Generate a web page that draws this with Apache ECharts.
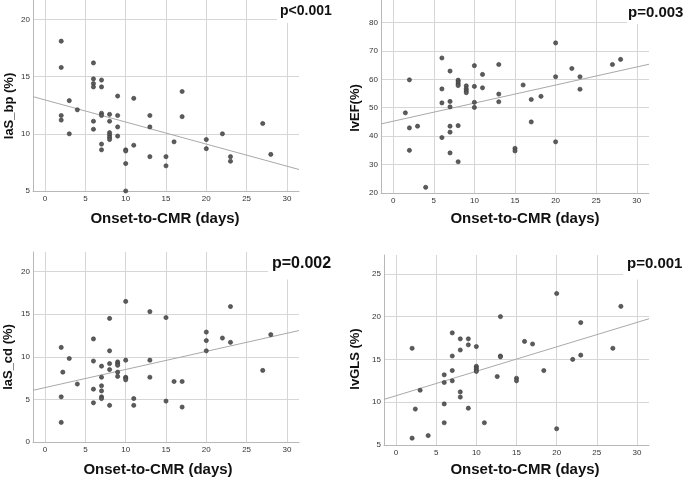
<!DOCTYPE html>
<html>
<head>
<meta charset="utf-8">
<script src="https://cdn.jsdelivr.net/npm/echarts@6/dist/echarts.min.js"></script>
<style>
html,body{margin:0;padding:0;background:#fff;}
#chart{width:685px;height:479px;}
</style>
</head>
<body>
<div id="chart"></div>
<script>
// ---------- data ----------
const xAxisName = 'Onset-to-CMR (days)';
const xTicks = [0, 5, 10, 15, 20, 25, 30];

// Panel 1: laS_bp
const bpOnset = [2,2,2,2,3,3,4,6,6,6,6,6,6,7,7,7,7,7,7,8,8,8,8,8,8,9,9,9,9,10,10,10,10,11,11,13,13,13,15,15,16,17,17,20,20,22,23,23,27,28];
const bpValue = [18.1,15.8,11.6,11.2,12.9,10.0,12.1,16.2,14.8,14.4,14.1,11.1,10.4,14.7,14.1,11.8,11.6,9.1,8.6,11.7,11.1,10.1,9.9,9.7,9.5,13.3,11.6,10.6,9.8,8.6,8.5,7.4,5.0,13.1,9.0,11.6,10.6,8.0,8.0,7.2,9.3,13.7,11.5,9.5,8.7,10.0,8.0,7.6,10.9,8.2];
const bpFit = [[-1.5, 13.25], [31.5, 6.88]];
const bpYTicks = [5, 10, 15, 20];

// Panel 2: lvEF
const efOnset = [1.5,2,2,2,3,4,6,6,6,6,7,7,7,7,7,7,8,8,8,8,8,8,9,9,9,9,10,10,10,10,11,11,13,13,13,15,15,16,17,17,18.2,20,20,20,22,23,23,27,28];
const efValue = [48.2,59.8,42.9,35.0,43.5,22.0,67.5,56.6,51.7,39.5,62.9,52.2,50.3,43.5,41.4,34.1,59.7,59.1,58.4,57.8,43.7,31.0,57.7,56.7,56.0,55.3,64.8,57.5,51.9,50.1,61.7,57.0,65.2,54.8,52.1,35.7,34.8,58.0,52.9,45.0,54.0,72.8,60.9,38.0,63.8,60.9,56.5,65.2,67.0];
const efFit = [[-1.5, 44.3], [31.5, 65.3]];
const efYTicks = [20, 30, 40, 50, 60, 70, 80];

// Panel 3: laS_cd
const cdOnset = [2,2.2,2,2,3,4,6,6,6,6,7,7,7,7,7,7,8,8,8,8,8,9,9,9,9,9,10,10,10,10,10,11,11,13,13,13,15,15,16,17,17,20,20,20,22,23,23,27,28];
const cdValue = [11.1,8.2,5.3,2.3,9.8,6.8,12.1,9.5,6.2,4.6,8.9,7.6,6.6,6.0,5.3,5.1,14.5,10.7,9.2,8.5,4.3,9.4,9.2,9.0,8.2,7.7,16.5,9.6,7.6,7.5,7.3,5.1,4.3,15.3,9.6,7.6,14.6,4.8,7.1,7.1,4.1,12.9,11.9,10.7,12.2,15.9,11.7,8.4,12.6];
const cdFit = [[-1.5, 6.07], [31.5, 13.08]];
const cdYTicks = [0, 5, 10, 15, 20];

// Panel 4: lvGLS
const glsOnset = [2,2,2.4,3,4,6,6,6,6,7,7,7,7,8,8,8,8,9,9,9,10,10,10,10,10,11,12.6,13,13,13,15,15,16,17,18.4,20,20,22,23,23,27,28];
const glsValue = [16.3,5.8,9.2,11.4,6.1,13.2,12.3,9.8,7.6,18.1,15.4,13.7,12.5,17.4,16.1,11.2,10.6,17.4,16.7,9.3,16.5,14.2,14.0,13.8,13.6,7.6,13.0,20.0,15.4,15.3,12.8,12.5,17.1,16.8,13.7,22.7,6.9,15.0,19.3,15.5,16.3,21.2];
const glsFit = [[-1.5, 10.33], [31.5, 19.75]];
const glsYTicks = [5, 10, 15, 20, 25];

const yNames = ['laS_bp (%)', 'lvEF(%)', 'laS_cd (%)', 'lvGLS (%)'];
const pLabels = ['p<0.001', 'p=0.003', 'p=0.002', 'p=0.001'];

// ---------- layout / style ----------
const FONT = "'Liberation Sans', Arial, sans-serif";
const GRID = '#d6d6d6';
const AXIS = '#b8b8b8';

const panels = [
  {x: bpOnset, y: bpValue, fit: bpFit, yTicks: bpYTicks, yMin: 5, yMax: 21.7,
   grid: {left: 33, top: 0, width: 266, height: 191},
   yName: {x: 9, y: 106, size: 13}, xName: {x: 165, y: 218.5},
   pBox: {x: 277, y: 0, w: 70, h: 23}, pText: {x: 280, y: 11.5, size: 14}},
  {x: efOnset, y: efValue, fit: efFit, yTicks: efYTicks, yMin: 20, yMax: 87.9,
   grid: {left: 381, top: 0, width: 268, height: 193},
   yName: {x: 355, y: 108, size: 13}, xName: {x: 525, y: 218.5},
   pBox: {x: 627, y: 0, w: 60, h: 24}, pText: {x: 628, y: 12.5, size: 15}},
  {x: cdOnset, y: cdValue, fit: cdFit, yTicks: cdYTicks, yMin: 0, yMax: 22.3,
   grid: {left: 33, top: 252, width: 266, height: 190},
   yName: {x: 8, y: 357, size: 13}, xName: {x: 158, y: 469.5},
   pBox: {x: 268, y: 252, w: 80, h: 27.5}, pText: {x: 272, y: 264, size: 16}},
  {x: glsOnset, y: glsValue, fit: glsFit, yTicks: glsYTicks, yMin: 5, yMax: 27.2,
   grid: {left: 384, top: 255, width: 265, height: 190},
   yName: {x: 355, y: 359, size: 13}, xName: {x: 525, y: 469.5},
   pBox: {x: 623, y: 255, w: 65, h: 24.5}, pText: {x: 627, y: 264, size: 15}}
];

const grids = [], xAxes = [], yAxes = [], series = [], graphics = [];
panels.forEach((p, i) => {
  grids.push(Object.assign({containLabel: false}, p.grid));
  xAxes.push({
    type: 'value', gridIndex: i, min: -1.5, max: 31.5, splitNumber: 7,
    axisLine: {show: true, onZero: false, lineStyle: {color: AXIS, width: 1}},
    axisTick: {show: false},
    axisLabel: {
      color: '#333', fontSize: 8, fontFamily: FONT, margin: 4,
      showMinLabel: true, showMaxLabel: true,
      formatter: v => xTicks.some(t => Math.abs(t - v) < 1e-6) ? String(v) : ''
    },
    splitLine: {show: true, showMinLine: false, showMaxLine: false, lineStyle: {color: GRID, width: 1}}
  });
  const step = p.yTicks[1] - p.yTicks[0];
  yAxes.push({
    type: 'value', gridIndex: i, min: p.yMin, max: p.yMax, interval: step,
    axisLine: {show: true, onZero: false, lineStyle: {color: AXIS, width: 1}},
    axisTick: {show: false},
    axisLabel: {
      color: '#333', fontSize: 8, fontFamily: FONT, margin: 3,
      formatter: v => p.yTicks.some(t => Math.abs(t - v) < 1e-6) ? String(v) : ''
    },
    splitLine: {show: true, showMinLine: false, showMaxLine: false, lineStyle: {color: GRID, width: 1}}
  });
  series.push({
    type: 'line', xAxisIndex: i, yAxisIndex: i, data: p.fit,
    showSymbol: false, symbol: 'none', silent: true, z: 2,
    lineStyle: {color: '#a9a9a9', width: 1}
  });
  series.push({
    type: 'scatter', xAxisIndex: i, yAxisIndex: i,
    data: p.x.map((v, k) => [v, p.y[k]]),
    symbolSize: 4.2, z: 3,
    itemStyle: {color: '#5c5c5c', borderColor: '#383838', borderWidth: 0.6, opacity: 1}
  });
  graphics.push({
    type: 'text', x: p.yName.x, y: p.yName.y, rotation: Math.PI / 2, z: 10,
    style: {text: yNames[i], font: 'bold ' + p.yName.size + 'px ' + FONT, fill: '#111', align: 'center', verticalAlign: 'middle'}
  });
  graphics.push({
    type: 'text', x: p.xName.x, y: p.xName.y, z: 10,
    style: {text: xAxisName, font: 'bold 15px ' + FONT, fill: '#111', align: 'center', verticalAlign: 'middle'}
  });
  graphics.push({
    type: 'rect', z: 20, shape: {x: p.pBox.x, y: p.pBox.y, width: p.pBox.w, height: p.pBox.h},
    style: {fill: '#ffffff'}
  });
  graphics.push({
    type: 'text', x: p.pText.x, y: p.pText.y, z: 21,
    style: {text: pLabels[i], font: 'bold ' + p.pText.size + 'px ' + FONT, fill: '#111', align: 'left', verticalAlign: 'middle'}
  });
});

const chart = echarts.init(document.getElementById('chart'), null, {renderer: 'canvas'});
chart.setOption({
  animation: false,
  backgroundColor: '#ffffff',
  grid: grids, xAxis: xAxes, yAxis: yAxes, series: series,
  graphic: {elements: graphics}
});
</script>
</body>
</html>
